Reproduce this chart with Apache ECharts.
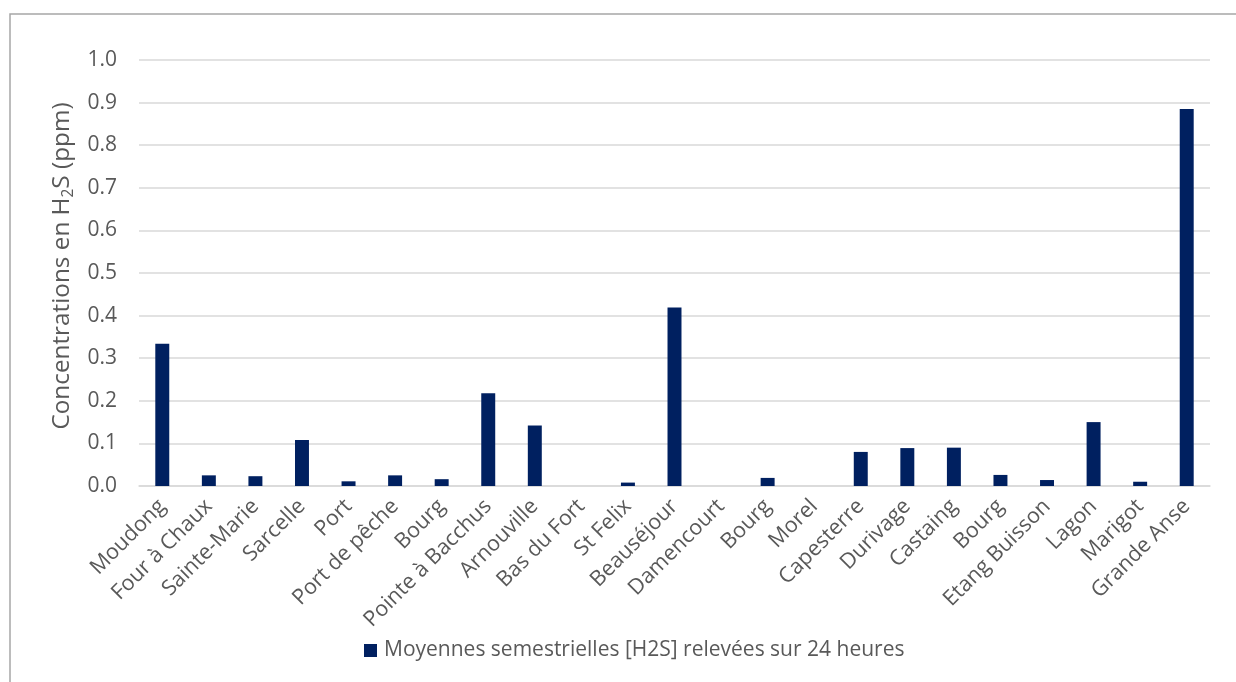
<!DOCTYPE html>
<html>
<head>
<meta charset="utf-8">
<script src="https://cdn.jsdelivr.net/npm/echarts@6/dist/echarts.min.js"></script>
<style>
html,body{margin:0;padding:0;background:#fff;}
#chart{width:1236px;height:682px;}
</style>
</head>
<body>
<div id="chart"></div>
<script>
const categories = ["Moudong","Four à Chaux","Sainte-Marie","Sarcelle","Port","Port de pêche","Bourg","Pointe à Bacchus","Arnouville","Bas du Fort","St Felix","Beauséjour","Damencourt","Bourg","Morel","Capesterre","Durivage","Castaing","Bourg","Etang Buisson","Lagon","Marigot","Grande Anse"];
const values = [0.334,0.025,0.023,0.108,0.011,0.025,0.016,0.218,0.142,0,0.008,0.419,0,0.019,0,0.080,0.089,0.090,0.026,0.014,0.150,0.010,0.885];
const seriesName = "Moyennes semestrielles [H2S] relevées sur 24 heures";
const yMin = 0, yMax = 1.0, yStep = 0.1;

const FONT = "Open Sans";
const chart = echarts.init(document.getElementById('chart'), null, {renderer:'canvas'});
chart.setOption({
  animation:false,
  backgroundColor:'#fff',
  graphic:[{
    type:'rect', shape:{x:10,y:14,width:1260,height:720},
    style:{fill:'none',stroke:'#a6a6a6',lineWidth:1.5}, silent:true, z:-1
  }],
  grid:{left:139,right:26,top:60,bottom:196,containLabel:false},
  legend:{
    left:364, top:640, padding:0, icon:'rect', itemWidth:13, itemHeight:13, itemGap:8,
    textStyle:{color:'#595959',fontFamily:FONT,fontSize:21,padding:[0,0,0,2]},
    data:[seriesName]
  },
  xAxis:{
    type:'category', data:categories,
    axisLine:{lineStyle:{color:'#d9d9d9',width:1.5}},
    axisTick:{show:false},
    axisLabel:{interval:0,rotate:45,color:'#595959',fontFamily:FONT,fontSize:21.5,margin:17}
  },
  yAxis:{
    type:'value', min:yMin, max:yMax, interval:yStep,
    name:'{n|Concentrations en H}{s|2}{n|S (ppm)}',
    nameLocation:'middle', nameGap:60, nameRotate:90,
    nameTextStyle:{
      padding:[0,0,0,14],
      rich:{
        n:{color:'#595959',fontFamily:FONT,fontSize:24.3},
        s:{color:'#595959',fontFamily:FONT,fontSize:15.5,padding:[12,0,0,0]}
      }
    },
    axisLine:{show:false}, axisTick:{show:false},
    splitLine:{lineStyle:{color:'#d9d9d9',width:1.5}},
    axisLabel:{color:'#595959',fontFamily:FONT,fontSize:21,margin:22,
      formatter:v=>v.toFixed(1)}
  },
  series:[{
    name:seriesName, type:'bar', data:values, barWidth:'30%',
    itemStyle:{color:'#002060'}
  }]
});
</script>
</body>
</html>
